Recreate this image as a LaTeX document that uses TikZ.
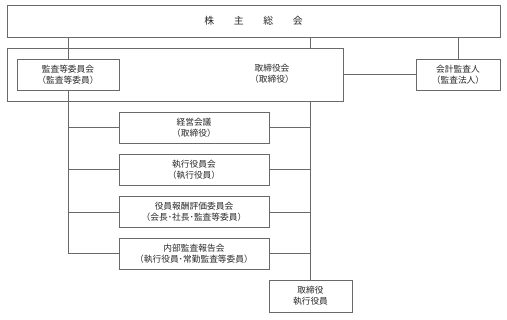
\documentclass[tikz,border=0pt]{standalone}
\usepackage{fontspec}
\newfontfamily\jpfont{Noto Sans CJK JP}
\usepackage{tikz}
\usetikzlibrary{positioning,calc}
\definecolor{linegray}{RGB}{105,105,105}
\definecolor{textgray}{RGB}{40,40,40}

\begin{document}
\begin{tikzpicture}[
    box/.style={rectangle, draw=linegray, line width=0.6pt, fill=white, minimum width=3.75cm, minimum height=0.775cm, align=center, inner sep=0pt, text=textgray, font=\jpfont\fontsize{6.2}{7.8}\selectfont},
    link/.style={draw=linegray, line width=0.6pt}
]
\useasboundingbox (0,0) rectangle (12.675,8);
% top level and board
\node[box, minimum width=12.325cm, minimum height=0.8cm, font=\jpfont\fontsize{7}{8}\selectfont] (meeting) at (6.3375,7.475) {株\hspace{2em}主\hspace{2em}総\hspace{2em}会};
\node[box, minimum width=8.4cm, minimum height=1.325cm] (board) at (4.375,6.1375) {};
\node[box, draw=none, fill=none, minimum width=0pt, minimum height=0pt] (boardtext) at (6.8,6.15) {取締役会\\（取締役）};
\node[box, minimum width=2.55cm] (audit) at (1.7,6.1375) {監査等委員会\\（監査等委員）};
\node[box, minimum width=2.1cm] (auditor) at (11.45,6.1375) {会計監査人\\（監査法人）};
% meetings below the board
\node[box] (mgmt) at (4.85,4.8125) {経営会議\\（取締役）};
\node[box] (exec) at (4.85,3.7625) {執行役員会\\（執行役員）};
\node[box] (remun) at (4.85,2.7) {役員報酬評価委員会\\（会長･社長･監査等委員）};
\node[box] (internal) at (4.85,1.6625) {内部監査報告会\\（執行役員･常勤監査等委員）};
\node[box, minimum width=2.075cm, minimum height=0.8cm] (officers) at (7.7625,0.6) {取締役\\執行役員};

\draw[link] (meeting.south -| audit) -- (audit.north);
\draw[link] (meeting.south -| officers) -- (board.north -| officers);
\draw[link] (meeting.south -| auditor) -- (auditor.north);
\draw[link] (board.east) -- (auditor.west);
\draw[link] (audit.south) -- (audit.south |- internal.west) -- (internal.west);
\draw[link] (board.south -| officers) -- (officers.north);
\foreach \n in {mgmt,exec,remun}
    \draw[link] (\n.west -| audit) -- (\n.west);
\foreach \n in {mgmt,exec,remun,internal}
    \draw[link] (\n.east) -- (\n.east -| officers);
\end{tikzpicture}
\end{document}
